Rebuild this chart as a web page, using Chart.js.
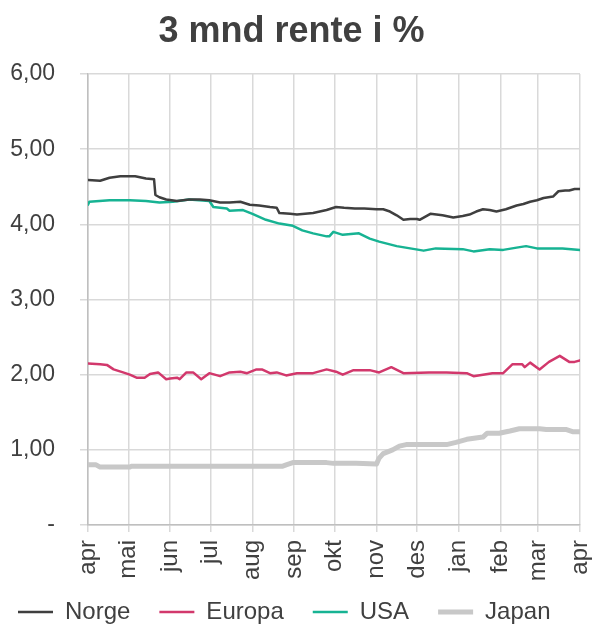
<!DOCTYPE html>
<html>
<head>
<meta charset="utf-8">
<script src="https://cdn.jsdelivr.net/npm/chart.js@4/dist/chart.umd.min.js"></script>
<style>
html,body{margin:0;padding:0;background:#fff;}
canvas{display:block;}
</style>
</head>
<body>
<canvas id="c" width="594" height="624"></canvas>
<script>
// Month tick labels and their day offsets (from start of April)
const monthLabels = ["apr","mai","jun","jul","aug","sep","okt","nov","des","jan","feb","mar","apr"];
const monthDays   = [0,30,61,91,122,153,183,214,244,275,306,334,365];
const yTickValues = [0,1,2,3,4,5,6];

// Series: day offsets and values (%)
const norgeDays = [0,9,16,24,35,43,49,50,53,58,66,75,83,90,98,105,113,120,127,135,140,142,150,155,161,167,172,177,184,190,198,205,214,219,224,229,234,239,244,246,250,254,263,271,278,283,288,293,298,303,310,318,323,328,333,338,345,349,354,357,361,365];
const norgeVals = [4.59,4.58,4.62,4.64,4.64,4.61,4.60,4.39,4.36,4.33,4.31,4.33,4.33,4.32,4.29,4.29,4.30,4.26,4.25,4.23,4.22,4.15,4.14,4.13,4.14,4.15,4.17,4.19,4.23,4.22,4.21,4.21,4.20,4.20,4.17,4.12,4.06,4.07,4.07,4.06,4.10,4.14,4.12,4.09,4.11,4.13,4.17,4.20,4.19,4.17,4.20,4.25,4.27,4.30,4.32,4.35,4.37,4.44,4.45,4.45,4.47,4.47];

const europaDays = [0,9,14,19,26,31,36,42,46,52,58,61,66,68,73,78,84,90,98,105,113,118,125,129,135,140,147,155,167,177,184,189,197,209,216,225,234,253,266,281,286,300,308,315,322,324,328,335,342,350,357,361,365];
const europaVals = [2.15,2.14,2.13,2.07,2.03,2.00,1.96,1.96,2.01,2.03,1.94,1.95,1.96,1.94,2.03,2.03,1.94,2.02,1.98,2.03,2.04,2.02,2.07,2.07,2.02,2.03,1.99,2.02,2.02,2.07,2.04,2.00,2.06,2.06,2.03,2.10,2.02,2.03,2.03,2.02,1.98,2.02,2.02,2.14,2.14,2.10,2.16,2.07,2.17,2.25,2.17,2.17,2.19];

const usaDays = [0,1,16,31,43,53,63,75,90,93,103,105,115,122,132,142,152,159,167,177,179,182,189,201,209,216,229,239,249,258,278,286,298,308,318,325,333,352,365];
const usaVals = [4.26,4.30,4.32,4.32,4.31,4.29,4.30,4.33,4.31,4.23,4.21,4.18,4.19,4.14,4.06,4.01,3.98,3.92,3.88,3.84,3.84,3.90,3.86,3.88,3.81,3.77,3.71,3.68,3.65,3.68,3.67,3.64,3.67,3.66,3.69,3.71,3.68,3.68,3.66];

const japanDays = [0,6,9,31,32,144,147,152,177,182,199,214,216,219,226,231,236,266,273,281,293,296,305,313,320,335,340,355,360,365];
const japanVals = [0.80,0.80,0.77,0.77,0.78,0.78,0.80,0.83,0.83,0.82,0.82,0.81,0.89,0.95,1.00,1.05,1.07,1.07,1.10,1.14,1.17,1.22,1.22,1.25,1.28,1.28,1.27,1.27,1.24,1.24];

const pts = (d, v) => d.map((x, i) => ({x: x, y: v[i]}));
const FONT = "'Liberation Sans', Arial, Helvetica, sans-serif";
const TXT = '#404040';

// Extend the legend box upward so its row sits right under the rotated month labels
const legendShift = {
  id: 'legendShift',
  afterLayout(chart) {
    const lg = chart.legend;
    if (lg) { lg.top -= 10; }
  }
};

new Chart(document.getElementById('c'), {
  type: 'line',
  data: {
    datasets: [
      {label: 'Norge',  data: pts(norgeDays, norgeVals),   borderColor: '#3f3f3f', borderWidth: 2.5},
      {label: 'Europa', data: pts(europaDays, europaVals), borderColor: '#d2386c', borderWidth: 2.5},
      {label: 'USA',    data: pts(usaDays, usaVals),       borderColor: '#17b393', borderWidth: 2.5},
      {label: 'Japan',  data: pts(japanDays, japanVals),   borderColor: '#c8c8c8', borderWidth: 5}
    ]
  },
  plugins: [legendShift],
  options: {
    responsive: false,
    animation: false,
    devicePixelRatio: 1,
    elements: {point: {radius: 0}, line: {tension: 0, borderJoinStyle: 'round', borderCapStyle: 'round'}},
    layout: {padding: {left: -11, right: 0, top: 0, bottom: 0}},
    plugins: {
      title: {
        display: true,
        text: '3 mnd rente i %',
        color: TXT,
        font: {family: FONT, size: 36, weight: 'bold'},
        padding: {top: 10, bottom: 20.8}
      },
      legend: {
        position: 'bottom',
        align: 'start',
        maxHeight: 43,
        labels: {
          color: TXT,
          font: {family: FONT, size: 24},
          usePointStyle: true,
          pointStyle: 'line',
          pointStyleWidth: 35,
          padding: 29
        }
      },
      tooltip: {enabled: false}
    },
    scales: {
      x: {
        type: 'linear',
        min: 0,
        max: 365,
        afterBuildTicks: (s) => { s.ticks = monthDays.map(v => ({value: v})); },
        afterFit: (s) => { s.height = 56; s.paddingRight = 14; s.paddingLeft = 0; },
        ticks: {
          autoSkip: false,
          minRotation: 90,
          maxRotation: 90,
          padding: 8,
          color: TXT,
          font: {family: FONT, size: 24},
          callback: (v, i) => monthLabels[i]
        },
        grid: {color: '#d9d9d9', lineWidth: 1.5, tickLength: 7, drawTicks: true},
        border: {color: '#bfbfbf', width: 1.5}
      },
      y: {
        type: 'linear',
        min: 0,
        max: 6,
        afterBuildTicks: (s) => { s.ticks = yTickValues.map(v => ({value: v})); },
        afterFit: (s) => { s.width = 99; },
        ticks: {
          padding: 25,
          color: TXT,
          font: {family: FONT, size: 23},
          callback: (v) => v === 0 ? '-' : v.toFixed(2).replace('.', ',')
        },
        grid: {color: '#d9d9d9', lineWidth: 1.5, tickLength: 8},
        border: {color: '#bfbfbf', width: 1.5}
      }
    }
  }
});
</script>
</body>
</html>
